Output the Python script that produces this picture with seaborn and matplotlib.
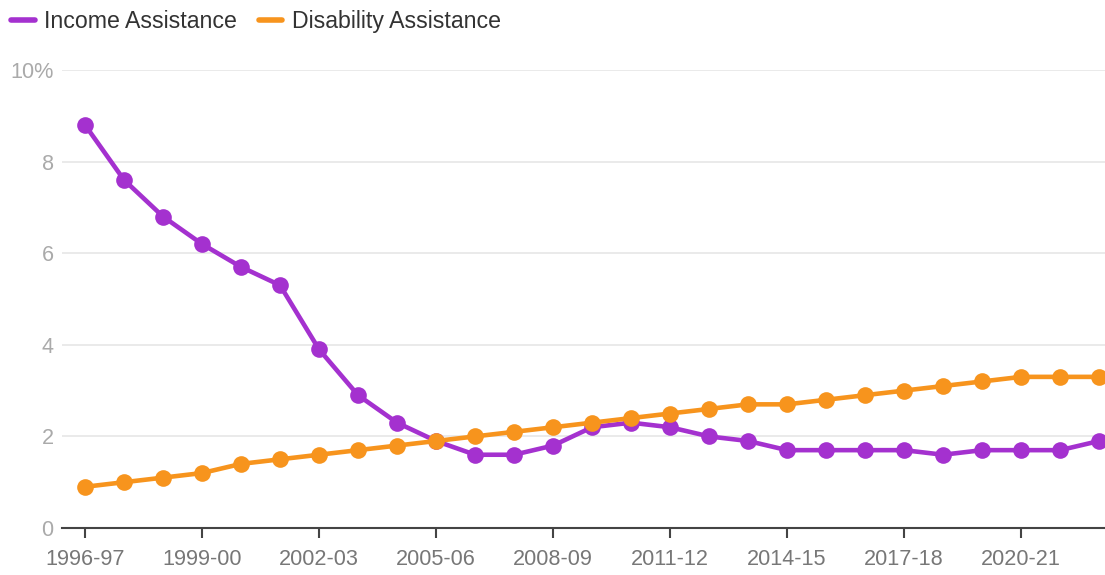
import matplotlib
matplotlib.use("Agg")
import matplotlib.pyplot as plt
import seaborn as sns
import pandas as pd
from matplotlib.lines import Line2D

years = [f"{y}-{str(y + 1)[-2:]}" for y in range(1996, 2023)]
income = [8.8, 7.6, 6.8, 6.2, 5.7, 5.3, 3.9, 2.9, 2.3, 1.9, 1.6, 1.6, 1.8, 2.2,
          2.3, 2.2, 2.0, 1.9, 1.7, 1.7, 1.7, 1.7, 1.6, 1.7, 1.7, 1.7, 1.9]
disability = [0.9, 1.0, 1.1, 1.2, 1.4, 1.5, 1.6, 1.7, 1.8, 1.9, 2.0, 2.1, 2.2, 2.3,
              2.4, 2.5, 2.6, 2.7, 2.7, 2.8, 2.9, 3.0, 3.1, 3.2, 3.3, 3.3, 3.3]
series_names = ["Income Assistance", "Disability Assistance"]
colors = ["#a431cf", "#f7941d"]
y_ticks = [0, 2, 4, 6, 8, 10]
y_labels = ["0", "2", "4", "6", "8", "10%"]

df = pd.DataFrame({
    "idx": list(range(len(years))) * 2,
    "value": income + disability,
    "series": [series_names[0]] * len(years) + [series_names[1]] * len(years),
})

sns.set_style("white")
plt.rcParams["font.family"] = ["Liberation Sans", "DejaVu Sans"]

fig = plt.figure(figsize=(11.05, 5.75), dpi=100)
ax = fig.add_axes([0.0561, 0.0817, 0.9439, 0.7966])

sns.lineplot(data=df, x="idx", y="value", hue="series", palette=colors,
             hue_order=series_names, marker="o", markersize=12, linewidth=3.3,
             markeredgewidth=0, ax=ax, legend=False, clip_on=False, zorder=3)

ax.set_xlim(-0.59, 26.15)
ax.set_ylim(0, 10)
ax.set_yticks(y_ticks)
ax.set_yticklabels(y_labels)
ax.set_xticks(range(0, len(years), 3))
ax.set_xticklabels(years[::3])
ax.set_xlabel("")
ax.set_ylabel("")

for y in y_ticks[1:]:
    ax.axhline(y, color="#e6e6e6", linewidth=1.2, zorder=1)

for s in ["top", "right", "left"]:
    ax.spines[s].set_visible(False)
ax.spines["bottom"].set_color("#444444")
ax.spines["bottom"].set_linewidth(1.5)

ax.tick_params(axis="x", length=7, width=1.5, color="#444444",
               labelsize=15.6, pad=8, bottom=True, labelcolor="#777777")
ax.tick_params(axis="y", length=0, labelsize=15.6, labelcolor="#aaaaaa", pad=6)

handles = [Line2D([0], [0], color=c, linewidth=4, solid_capstyle="round") for c in colors]
fig.legend(handles, series_names, loc="upper left", bbox_to_anchor=(-0.0065, 1.0145),
           ncol=2, frameon=False, fontsize=16.7, handlelength=1.0,
           handletextpad=0.42, columnspacing=0.95, borderpad=0.3,
           labelcolor="#333333")

fig.savefig("out.png", dpi=100)
